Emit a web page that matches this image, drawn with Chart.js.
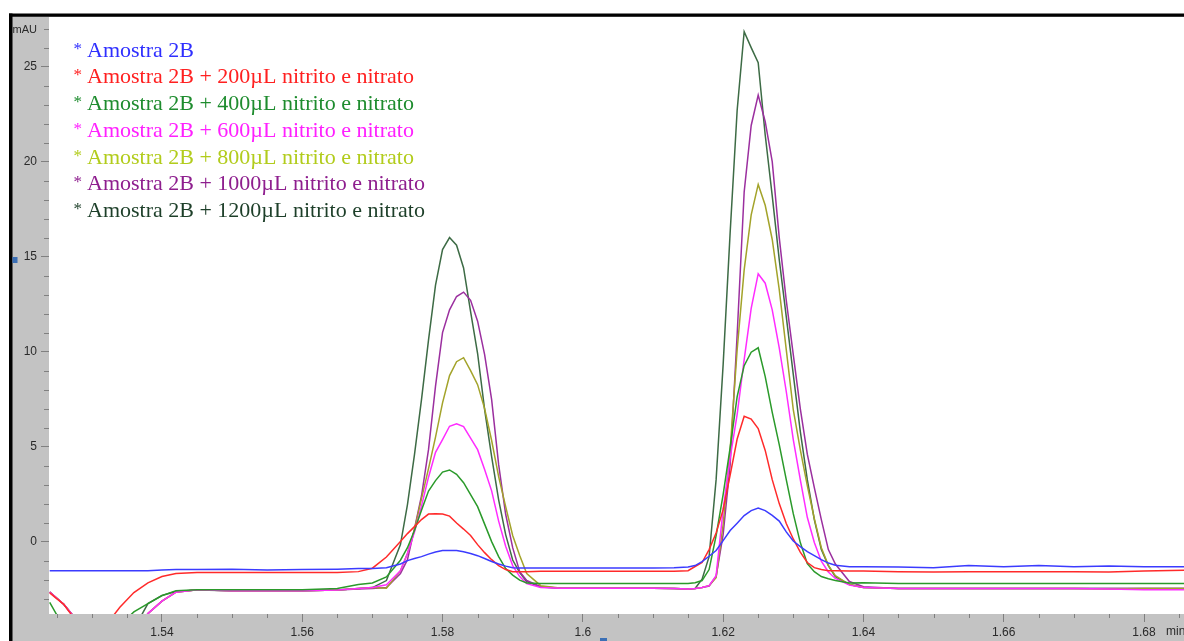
<!DOCTYPE html>
<html lang="pt">
<head>
<meta charset="UTF-8">
<title>Cromatograma - Amostra 2B</title>
<style>
  body { margin: 0; padding: 0; background: #fff; }
  #chart { display: block; }
</style>
</head>
<body>
<canvas id="chart" width="1184" height="641"></canvas>
<script src="https://cdn.jsdelivr.net/npm/chart.js"></script>
<script>
// tempo de retenção (min), amostragem mais densa nos picos
const tempo = [1.524,1.526,1.528,1.530,1.532,1.534,1.536,1.538,1.540,1.542,
  1.545,1.550,1.555,1.560,1.565,1.568,1.570,1.572,1.574,
  1.575,1.576,1.577,1.578,1.579,1.580,1.581,1.582,1.583,1.584,1.585,1.586,1.587,1.588,1.589,1.590,1.591,1.592,
  1.594,1.597,1.600,1.605,1.610,1.613,1.615,
  1.616,1.617,1.618,1.619,1.620,1.621,1.622,1.623,1.624,1.625,1.626,1.627,1.628,1.629,1.630,1.631,1.632,1.633,1.634,1.635,1.636,
  1.638,1.640,1.645,1.650,1.655,1.660,1.665,1.670,1.675,1.680,1.686];

// absorbância (mAU)
const amostra2B = [-1.53,-1.53,-1.53,-1.53,-1.53,-1.53,-1.53,-1.53,-1.50,-1.47,
  -1.47,-1.45,-1.50,-1.47,-1.45,-1.42,-1.42,-1.37,-1.18,
  -1.00,-0.89,-0.79,-0.66,-0.55,-0.47,-0.47,-0.47,-0.53,-0.63,-0.74,-0.89,-1.05,-1.18,-1.29,-1.37,-1.39,-1.39,
  -1.39,-1.39,-1.39,-1.39,-1.39,-1.37,-1.34,
  -1.26,-1.05,-0.77,-0.47,0.05,0.58,0.97,1.37,1.63,1.76,1.63,1.38,1.08,0.51,0.03,-0.26,-0.53,-0.74,-0.95,-1.13,-1.24,
  -1.32,-1.32,-1.34,-1.37,-1.26,-1.32,-1.26,-1.32,-1.29,-1.32,-1.32];

const add200 = [-2.70,-3.30,-4.30,-5.00,-4.40,-3.46,-2.68,-2.17,-1.84,-1.68,
  -1.63,-1.63,-1.63,-1.63,-1.63,-1.58,-1.40,-0.81,0.00,
  0.42,0.79,1.16,1.45,1.47,1.45,1.34,0.98,0.66,0.32,-0.16,-0.58,-0.95,-1.26,-1.47,-1.58,-1.58,-1.58,
  -1.56,-1.56,-1.56,-1.56,-1.56,-1.56,-1.53,
  -1.31,-1.10,-0.42,0.45,1.68,3.50,5.40,6.60,6.45,5.95,4.80,3.26,2.00,0.95,0.14,-0.55,-1.10,-1.37,-1.47,-1.53,-1.53,
  -1.55,-1.55,-1.58,-1.60,-1.58,-1.58,-1.58,-1.58,-1.60,-1.55,-1.50];

const add400 = [-3.20,-4.50,-5.00,-5.50,-5.20,-4.40,-3.70,-3.26,-2.84,-2.58,
  -2.53,-2.53,-2.53,-2.53,-2.47,-2.26,-2.18,-1.86,-0.98,
  -0.32,0.58,1.65,2.66,3.21,3.66,3.77,3.54,3.10,2.47,1.84,0.92,0.00,-0.79,-1.42,-1.76,-2.03,-2.18,
  -2.21,-2.21,-2.21,-2.21,-2.21,-2.21,-2.21,
  -2.16,-2.05,-1.47,0.32,2.47,4.95,7.63,9.26,9.97,10.20,8.68,6.80,5.10,3.26,1.47,-0.05,-1.16,-1.58,-1.84,-1.95,-2.05,
  -2.18,-2.16,-2.21,-2.21,-2.21,-2.21,-2.21,-2.21,-2.21,-2.21,-2.21];

const add600 = [-2.65,-3.30,-4.20,-5.50,-6.00,-5.50,-4.80,-3.79,-3.13,-2.66,
  -2.53,-2.58,-2.58,-2.58,-2.55,-2.47,-2.42,-2.27,-1.53,
  -0.63,0.50,1.87,3.39,4.70,5.37,6.07,6.20,6.05,5.45,4.84,3.79,2.67,1.08,-0.24,-1.26,-1.84,-2.21,
  -2.42,-2.45,-2.45,-2.45,-2.45,-2.47,-2.50,
  -2.47,-2.42,-2.32,-1.79,1.68,4.40,6.70,9.58,12.28,14.10,13.60,12.20,10.20,7.90,5.37,3.26,1.28,-0.05,-1.03,-1.60,-1.94,
  -2.29,-2.42,-2.47,-2.47,-2.47,-2.47,-2.47,-2.47,-2.50,-2.53,-2.53];

const add800 = [-2.65,-3.30,-4.20,-5.50,-6.00,-5.50,-4.80,-3.79,-3.13,-2.66,
  -2.53,-2.58,-2.58,-2.58,-2.55,-2.47,-2.42,-2.45,-1.53,
  -0.63,0.63,2.26,3.84,5.50,7.30,8.74,9.47,9.68,9.00,8.26,7.00,5.32,3.42,1.84,0.32,-0.73,-1.68,
  -2.32,-2.45,-2.45,-2.45,-2.45,-2.47,-2.50,
  -2.47,-2.42,-2.32,-1.90,0.90,4.84,10.10,14.30,17.20,18.80,17.70,15.90,13.26,10.10,6.95,4.84,2.95,1.21,-0.32,-1.25,-1.79,
  -2.26,-2.42,-2.47,-2.47,-2.47,-2.47,-2.47,-2.47,-2.50,-2.47,-2.47];

const add1000 = [-2.65,-3.30,-4.20,-5.50,-6.00,-5.50,-4.80,-3.79,-3.13,-2.66,
  -2.53,-2.58,-2.58,-2.58,-2.55,-2.50,-2.47,-2.42,-1.68,
  -0.95,0.68,2.40,4.84,8.18,11.00,12.20,12.90,13.13,12.70,11.60,9.84,7.47,4.05,1.44,-0.32,-1.58,-2.05,
  -2.37,-2.45,-2.45,-2.45,-2.45,-2.47,-2.50,
  -2.47,-2.42,-2.34,-1.84,0.37,4.05,10.90,18.40,21.90,23.50,22.10,20.00,16.00,12.70,9.84,7.00,4.60,2.84,1.16,-0.42,-1.18,
  -2.10,-2.37,-2.47,-2.47,-2.47,-2.47,-2.47,-2.47,-2.47,-2.47,-2.47];

const add1200 = [-2.65,-3.30,-4.20,-5.30,-5.80,-5.30,-4.60,-3.26,-2.84,-2.63,
  -2.55,-2.58,-2.58,-2.58,-2.55,-2.47,-2.42,-2.05,-0.16,
  1.95,4.58,7.47,10.60,13.50,15.37,16.00,15.60,14.40,12.10,9.90,6.95,4.47,2.20,0.37,-0.97,-1.63,-2.10,
  -2.39,-2.45,-2.45,-2.45,-2.45,-2.47,-2.50,
  -2.47,-1.98,-0.79,3.26,9.30,16.26,22.70,26.84,26.00,25.20,21.40,18.20,14.84,11.84,8.80,5.80,3.26,1.16,-0.42,-1.26,-1.84,
  -2.26,-2.42,-2.47,-2.47,-2.47,-2.47,-2.47,-2.47,-2.47,-2.47,-2.47];

const seriesLabels = [
  'Amostra 2B',
  'Amostra 2B + 200µL nitrito e nitrato',
  'Amostra 2B + 400µL nitrito e nitrato',
  'Amostra 2B + 600µL nitrito e nitrato',
  'Amostra 2B + 800µL nitrito e nitrato',
  'Amostra 2B + 1000µL nitrito e nitrato',
  'Amostra 2B + 1200µL nitrito e nitrato'
];
const seriesValues = [amostra2B, add200, add400, add600, add800, add1000, add1200];
const lineColors = ['#3b3bff', '#ff2a2a', '#2a9a2a', '#ff2cff', '#a3a32a', '#9b2f9f', '#3d6b45'];
const textColors = ['#2f2fff', '#ff2020', '#1e8c2e', '#ff20ff', '#b2cc1c', '#8e1e8e', '#1d3f29'];

const xTickValues = [1.54, 1.56, 1.58, 1.60, 1.62, 1.64, 1.66, 1.68];
const yTickValues = [0, 5, 10, 15, 20, 25];

const panel = {
  id: 'panel',
  beforeDraw(chart) {
    const { ctx, width, height, chartArea: a } = chart;
    ctx.save();
    ctx.fillStyle = '#ffffff';
    ctx.fillRect(0, 0, width, height);
    ctx.fillStyle = '#c3c3c3';
    ctx.fillRect(12, a.top, a.left - 12, height - a.top);
    ctx.fillRect(12, a.bottom, width - 12, height - a.bottom);
    ctx.fillStyle = '#000000';
    ctx.fillRect(9, 13.5, width - 9, 3.3);
    ctx.fillRect(9, 13.5, 3.5, height - 13.5);
    ctx.fillStyle = '#3b6fb5';
    ctx.fillRect(12.5, 257, 5, 6);
    ctx.fillRect(600, 638, 7, 3);
    ctx.restore();
  },
  afterDraw(chart) {
    const { ctx, chartArea: a, scales: { x, y } } = chart;
    ctx.save();
    ctx.strokeStyle = '#808080';
    ctx.lineWidth = 1;
    ctx.beginPath();
    for (let v = Math.ceil(y.min); v <= y.max; v++) {
      if (v % 5 === 0) continue;
      const py = Math.round(y.getPixelForValue(v)) + 0.5;
      ctx.moveTo(a.left - 5, py);
      ctx.lineTo(a.left, py);
    }
    for (let k = Math.ceil(x.min / 0.005); k * 0.005 <= x.max; k++) {
      if (k % 4 === 0) continue;
      const px = Math.round(x.getPixelForValue(k * 0.005)) + 0.5;
      ctx.moveTo(px, a.bottom);
      ctx.lineTo(px, a.bottom + 4);
    }
    ctx.stroke();
    ctx.fillStyle = '#2a2a2a';
    ctx.font = '11px Arial, "Liberation Sans", sans-serif';
    ctx.textBaseline = 'middle';
    ctx.fillText('mAU', 12.5, 30);
    ctx.font = '12px Arial, "Liberation Sans", sans-serif';
    ctx.fillText('min', 1166, 632);
    ctx.restore();
  }
};

const starLegend = {
  id: 'starLegend',
  afterDatasetsDraw(chart) {
    const ctx = chart.ctx;
    ctx.save();
    ctx.textBaseline = 'alphabetic';
    chart.data.datasets.forEach((ds, i) => {
      const base = 56.7 + i * 26.7;
      ctx.fillStyle = textColors[i];
      ctx.font = '17px "Liberation Serif", "Times New Roman", serif';
      ctx.fillText('*', 73.5, base - 3);
      ctx.font = '22px "Liberation Serif", "Times New Roman", serif';
      ctx.fillText(ds.label, 87, base);
    });
    ctx.restore();
  }
};

new Chart(document.getElementById('chart'), {
  type: 'line',
  data: {
    datasets: seriesValues.map((vals, i) => ({
      label: seriesLabels[i],
      data: tempo.map((t, j) => ({ x: t, y: vals[j] })),
      borderColor: lineColors[i],
      backgroundColor: lineColors[i],
      borderWidth: 1.5,
      pointRadius: 0,
      tension: 0,
      fill: false,
      clip: 0
    }))
  },
  options: {
    responsive: false,
    animation: false,
    devicePixelRatio: 1,
    events: [],
    layout: { padding: { left: 12, top: 17, right: 0, bottom: 0 } },
    plugins: { legend: { display: false }, tooltip: { enabled: false } },
    scales: {
      x: {
        type: 'linear',
        min: 1.5239,
        max: 1.6857,
        afterFit: s => { s.height = 27; },
        afterBuildTicks: s => { s.ticks = xTickValues.map(v => ({ value: v })); },
        border: { display: false },
        grid: { drawOnChartArea: false, drawTicks: true, tickLength: 8, color: '#808080' },
        ticks: {
          color: '#2a2a2a',
          font: { family: 'Arial, "Liberation Sans", sans-serif', size: 12 },
          padding: 3,
          maxRotation: 0,
          autoSkip: false,
          callback: v => String(Number(v.toFixed(2)))
        }
      },
      y: {
        type: 'linear',
        min: -3.81,
        max: 27.61,
        afterFit: s => { s.width = 37; },
        afterBuildTicks: s => { s.ticks = yTickValues.map(v => ({ value: v })); },
        border: { display: false },
        grid: { drawOnChartArea: false, drawTicks: true, tickLength: 8, color: '#808080' },
        ticks: {
          color: '#2a2a2a',
          font: { family: 'Arial, "Liberation Sans", sans-serif', size: 12 },
          padding: 4,
          autoSkip: false
        }
      }
    }
  },
  plugins: [panel, starLegend]
});
</script>
</body>
</html>
